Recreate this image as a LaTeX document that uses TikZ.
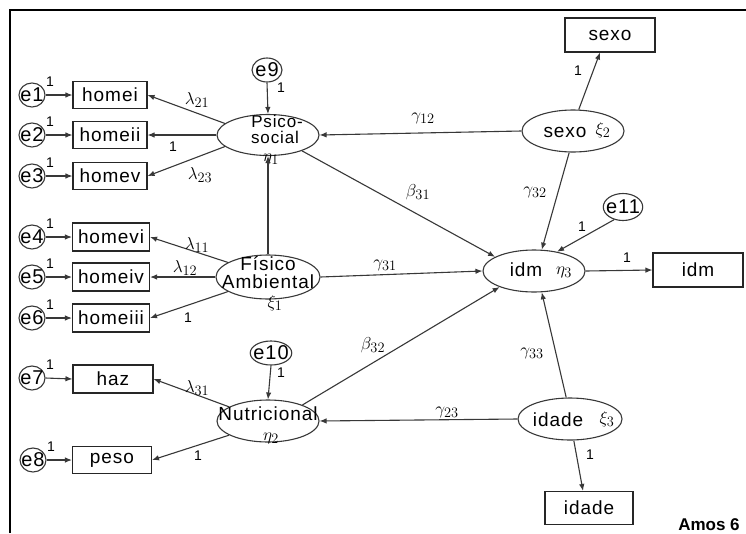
\documentclass[tikz,border=0pt]{standalone}
\usepackage{fontspec}
\setmainfont{Liberation Sans}
\newfontfamily\diagfont[LetterSpace=5]{Liberation Sans}
\usetikzlibrary{shapes.geometric,arrows.meta,calc}

\tikzset{
  conn/.style={draw=black!78, line width=1.1pt, -{Latex[length=7pt,width=5.5pt]}},
  obs/.style={draw=black!85, line width=1.1pt, rectangle, inner sep=0pt,
    font=\diagfont\fontsize{19}{21}\selectfont},
  lat/.style={draw=black!78, line width=1.1pt, ellipse, inner sep=0pt,
    minimum width=102pt, minimum height=41pt},
  err/.style={draw=black!78, line width=1.1pt, ellipse, inner sep=-3pt,
    minimum width=26pt, minimum height=24pt,
    font=\diagfont\fontsize{20}{22}\selectfont},
  ltext/.style={inner sep=0pt, font=\diagfont\fontsize{19}{21}\selectfont},
  gk/.style={inner sep=0pt, font=\fontsize{19}{21}\selectfont},
  one/.style={inner sep=0pt, font=\fontsize{14}{16}\selectfont},
}

\begin{document}
\begin{tikzpicture}[x=1pt,y=-1pt]
\useasboundingbox (0,0) rectangle (746,533);
\fill[white] (0,0) rectangle (746,533);
% frame
\draw[line width=1.1pt] (10,533) -- (10,10) -- (746,10);

% observed indicators
\node[obs, minimum width=74pt, minimum height=27pt] (homei)   at (110,95)  {homei};
\node[obs, minimum width=74pt, minimum height=27pt] (homeii)  at (110,135) {homeii};
\node[obs, minimum width=74pt, minimum height=27pt] (homev)   at (110,176) {homev};
\node[obs, minimum width=77pt, minimum height=28pt] (homevi)  at (111,237) {homevi};
\node[obs, minimum width=77pt, minimum height=28pt] (homeiv)  at (111,277) {homeiv};
\node[obs, minimum width=77pt, minimum height=28pt] (homeiii) at (111,318) {homeiii};
\node[obs, minimum width=80pt, minimum height=28pt] (haz)     at (113,379) {haz};
\node[obs, minimum width=79pt, minimum height=27pt] (peso)    at (112,460) {peso};
\node[obs, minimum width=90pt, minimum height=34pt] (sexoB)   at (610,35)  {sexo};
\node[obs, minimum width=90pt, minimum height=34pt] (idmB)    at (698,270) {idm};
\node[obs, minimum width=88pt, minimum height=33pt] (idadeB)  at (589,508) {idade};

% error terms
\node[err] (e1) at (32,95)  {e1};
\node[err] (e2) at (32,135) {e2};
\node[err] (e3) at (32,176) {e3};
\node[err] (e4) at (32,237) {e4};
\node[err] (e5) at (32,277) {e5};
\node[err] (e6) at (32,318) {e6};
\node[err] (e7) at (32,378) {e7};
\node[err] (e8) at (33,460) {e8};
\node[err, minimum width=30pt] (e9) at (267,70) {e9};
\node[err, minimum width=36pt] (e10) at (271,353) {e10};
\node[err, minimum width=38pt, minimum height=27pt] (e11) at (623,207) {e11};

% latent variables
\node[lat] (psico)  at (268,135) {};
\node[lat, minimum width=104pt, minimum height=44pt] (fisico) at (268,277) {};
\node[lat, minimum height=42pt] (nutri)  at (268,421) {};
\node[lat, minimum height=42pt] (sexoL)  at (573,131) {};
\node[lat, minimum height=42pt] (idm)    at (534,271) {};
\node[lat, minimum width=104pt, minimum height=42pt] (idade)  at (570,419) {};

% latent names
\node[ltext, font=\diagfont\fontsize{17}{19}\selectfont] (psicoA) at (277,121) {Psico-};
\node[ltext, font=\diagfont\fontsize{17}{19}\selectfont] (psicoB) at (275,137) {social};
\node[gk]    (psicoC) at (271,159) {$\eta_1$};
\node[ltext] (fisA) at (268,264) {F\'isico};
\node[ltext] (fisB) at (268,282) {Ambiental};
\node[gk]    (fisC) at (275,303) {$\xi_1$};
\node[ltext] (nutA) at (268,414) {Nutricional};
\node[gk]    (nutB) at (271,438) {$\eta_2$};
\node[ltext] (sexA) at (565,132) {sexo};
\node[gk]    (sexB) at (603,130) {$\xi_2$};
\node[ltext] (idmA) at (526,270) {idm};
\node[gk]    (idmC) at (564,272) {$\eta_3$};
\node[ltext] (idaA) at (558,420) {idade};
\node[gk]    (idaC) at (607,419) {$\xi_3$};

% error paths
\foreach \e/\b in {e1/homei,e2/homeii,e3/homev,e4/homevi,e5/homeiv,e6/homeiii,e7/haz,e8/peso}{
  \draw[conn] (\e.east) -- (\b.west);
  \node[one] at ($(\e.center)+(18,-13)$) {1};
}
\draw[conn] (e9.south) -- (psico.north);
\draw[conn] (e10.south) -- (nutri.north);
\draw[conn] (e11.-125) -- (idm.40);

% loadings
\draw[conn] (psico.165) -- (homei.east);
\draw[conn] (psico.west) -- (homeii.east);
\draw[conn] (psico.195) -- (homev.east);
\draw[conn] (fisico.160) -- (homevi.east);
\draw[conn] (fisico.west) -- (homeiv.east);
\draw[conn] (fisico.200) -- (homeiii.east);
\draw[conn] (nutri.160) -- (haz.east);
\draw[conn] (nutri.200) -- (peso.east);
\draw[conn] (sexoL.75) -- ($(sexoB.south)+(-10,0)$);
\draw[conn] (idm.east) -- (idmB.west);
\draw[conn] (idade.-80) -- ($(idadeB.north)+(-6,0)$);

% structural paths
\draw[conn] (fisico.north) -- (psico.south);
\draw[conn] (sexoL.west) -- (psico.east);
\draw[conn] (psico.-25) -- (idm.160);
\draw[conn] (sexoL.-100) -- (idm.70);
\draw[conn] (fisico.east) -- (idm.west);
\draw[conn] (nutri.25) -- (idm.205);
\draw[conn] (idade.100) -- (idm.-70);
\draw[conn] (idade.west) -- (nutri.east);

% coefficients
\node[gk] (l21) at (197,100) {$\lambda_{21}$};
\node[one] (o2) at (173,147) {1};
\node[gk] (l23) at (200,175) {$\lambda_{23}$};
\node[one] (o9) at (281,88) {1};
\node[gk] (g12) at (423,118) {$\gamma_{12}$};
\node[one] (os) at (578,71) {1};
\node[gk] (b31) at (418,192) {$\beta_{31}$};
\node[gk] (g32) at (535,192) {$\gamma_{32}$};
\node[one] (o11) at (582,227) {1};
\node[one] (oi) at (627,258) {1};
\node[gk] (l11) at (197,245) {$\lambda_{11}$};
\node[gk] (l12) at (185,268) {$\lambda_{12}$};
\node[one] (o6) at (188,318) {1};
\node[gk] (g31) at (385,265) {$\gamma_{31}$};
\node[gk] (b32) at (373,345) {$\beta_{32}$};
\node[one] (o10) at (281,373) {1};
\node[gk] (g33) at (532,353) {$\gamma_{33}$};
\node[gk] (l31) at (197,388) {$\lambda_{31}$};
\node[one] (op) at (198,456) {1};
\node[gk] (g23) at (447,412) {$\gamma_{23}$};
\node[one] (oa) at (590,455) {1};

\node[inner sep=0pt, font=\bfseries\fontsize{17}{19}\selectfont] (amos) at (709,525) {Amos 6};
\end{tikzpicture}
\end{document}
